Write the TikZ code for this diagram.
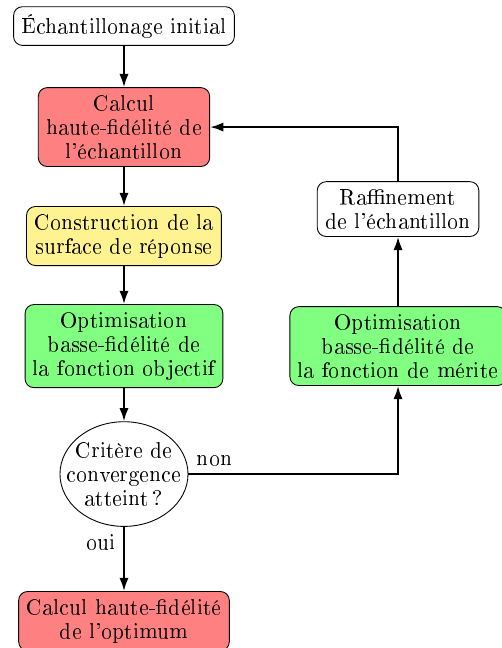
\documentclass[tikz,border=0pt]{standalone}
\usepackage[T1]{fontenc}
\usetikzlibrary{shapes.geometric,arrows.meta}
\definecolor{boxred}{RGB}{255,128,128}
\definecolor{boxyellow}{RGB}{255,242,145}
\definecolor{boxgreen}{RGB}{128,255,128}
\tikzset{
  stepbox/.style={draw, rounded corners=4pt, align=center, inner sep=3.5pt,
    font=\fontsize{10}{10.9}\selectfont},
  decision/.style={draw, ellipse, align=center, inner xsep=-5.5pt, inner ysep=2.4pt,
    font=\fontsize{10}{10.9}\selectfont},
  flow/.style={draw, -{Latex[length=6pt,width=4.2pt]}, line width=0.9pt},
  lbl/.style={font=\fontsize{10}{10.9}\selectfont},
}
\begin{document}
\begin{tikzpicture}[x=1pt,y=1pt]
\useasboundingbox (0,0) rectangle (226.7,-293.2);
\node[stepbox, fill=white] (init) at (56.1,-11.8) {Échantillonage initial};
\node[stepbox, fill=boxred] (calcul) at (56.1,-57.5) {Calcul\\haute-fidélité de\\l'échantillon};
\node[stepbox, fill=boxyellow] (surf) at (56.1,-106.8) {Construction de la\\surface de réponse};
\node[stepbox, fill=boxgreen] (optobj) at (56.1,-156.6) {Optimisation\\basse-fidélité de\\la fonction objectif};
\node[decision] (crit) at (56.1,-214.5) {Critère de\\convergence\\atteint\,?};
\node[stepbox, fill=boxred] (final) at (56.1,-281.0) {Calcul haute-fidélité\\de l'optimum};
\node[stepbox, fill=white] (raff) at (180.1,-94.6) {Raffinement\\de l'échantillon};
\node[stepbox, fill=boxgreen] (optmer) at (180.1,-156.6) {Optimisation\\basse-fidélité de\\la fonction de mérite};
\draw[flow] (init) -- (calcul);
\draw[flow] (calcul) -- (surf);
\draw[flow] (surf) -- (optobj);
\draw[flow] (optobj) -- (crit);
\draw[flow] (crit) -- node[lbl, pos=0, below left] {oui} (final);
\draw[flow] (crit.east) -| node[lbl, pos=0, above right] {non} (optmer.south);
\draw[flow] (optmer) -- (raff);
\draw[flow] (raff.north) |- (calcul.east);
\end{tikzpicture}
\end{document}
